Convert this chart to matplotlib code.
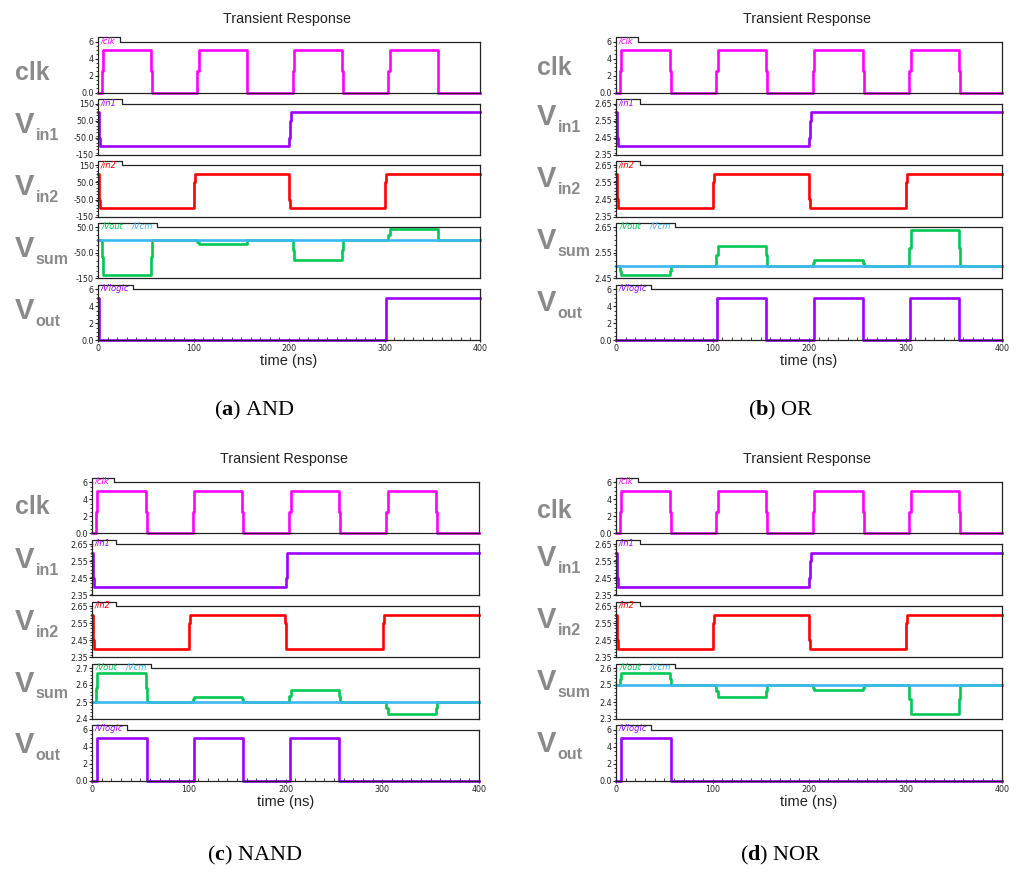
import matplotlib
matplotlib.use('Agg')
import matplotlib.pyplot as plt
from matplotlib.lines import Line2D
from matplotlib.ticker import FixedLocator, MultipleLocator

plt.rcParams['mathtext.fontset'] = 'custom'
plt.rcParams['mathtext.bf'] = 'Liberation Serif:bold'
plt.rcParams['mathtext.rm'] = 'Liberation Serif'

W, H = 1024, 880

# ---- data (time in ns) ----
clk_t = [0, 4, 5.5, 55.5, 56.5, 104, 105.5, 155.5, 156.5, 204, 205.5, 255.5, 256.5,
         304, 305.5, 355.5, 356.5, 400]
clk_v = [0, 2.5, 5, 2.5, 0, 2.5, 5, 2.5, 0, 2.5, 5, 2.5, 0, 2.5, 5, 2.5, 0, 0]

in1_t = [0, 0.6, 1.2, 2.0, 200.5, 201.2, 202.0, 400]
in1_v = [2.6, 2.55, 2.45, 2.4, 2.45, 2.55, 2.6, 2.6]
in1_mv = [100, 50, -50, -100, -50, 50, 100, 100]

in2_t = [0, 0.6, 1.2, 2.0, 100.0, 100.7, 101.4, 199.5, 200.2, 200.9, 300.3, 301.0, 301.7, 400]
in2_v = [2.6, 2.55, 2.45, 2.4, 2.45, 2.55, 2.6, 2.55, 2.45, 2.4, 2.45, 2.55, 2.6, 2.6]
in2_mv = [100, 50, -50, -100, -50, 50, 100, 50, -50, -100, -50, 50, 100, 100]

sum_t = [0, 4, 5.5, 55.5, 56.5, 104, 105.5, 155.5, 156.5, 204, 205.5, 255.5, 256.5,
         304, 305.5, 355.5, 356.5, 400]
sum_and = [0, -68, -135, -68, 0, -8, -15, -8, 0, -40, -78, -40, 0, 22, 43, 22, 0, 0]
sum_or = [2.5, 2.48, 2.463, 2.48, 2.5, 2.54, 2.579, 2.54, 2.5, 2.51, 2.522, 2.51, 2.5,
          2.57, 2.64, 2.57, 2.5, 2.5]
sum_nand = [2.5, 2.58, 2.67, 2.58, 2.5, 2.515, 2.53, 2.515, 2.5, 2.535, 2.569, 2.535, 2.5,
            2.465, 2.43, 2.465, 2.5, 2.5]
sum_nor = [2.5, 2.535, 2.57, 2.535, 2.5, 2.465, 2.43, 2.465, 2.5, 2.485, 2.473, 2.485, 2.5,
           2.415, 2.33, 2.415, 2.5, 2.5]

out_t_and = [0, 0.8, 302, 400]
out_and = [5, 0, 5, 5]
out_t_or = [0, 104.6, 155.8, 204.8, 256, 304.3, 355.2, 400]
out_or = [0, 5, 0, 5, 0, 5, 0, 0]
out_t_nand = [0, 5.3, 56.8, 105, 156, 204.8, 255.8, 400]
out_nand = [0, 5, 0, 5, 0, 5, 0, 0]
out_t_nor = [0, 5, 56.5, 400]
out_nor = [0, 5, 0, 0]

x_ticks = [0, 100, 200, 300, 400]
logic_ticks = [0, 2, 4, 6]
logic_labels = ['0.0', '2', '4', '6']
in_ticks = [2.35, 2.45, 2.55, 2.65]
in_labels = ['2.35', '2.45', '2.55', '2.65']
in_ticks_mv = [-150, -50, 50, 150]
in_labels_mv = ['-150', '-50.0', '50.0', '150']

C_CLK, C_IN1, C_IN2 = '#ff00ff', '#9a00ff', '#ff0000'
C_OUT, C_CM, C_LOGIC = '#00c853', '#3cb8f0', '#9a00ff'
FRAME = '#222222'
LABEL_GRAY = '#8a8a8a'

panels = [
    dict(x0=98, x1=480, top=41.7, cap='a', name='AND', capx=254, capy=410,
         clk_dy=20, v_dy=10,
         in1=in1_mv, in2=in2_mv, inlim=(-150, 150), inticks=in_ticks_mv, inlab=in_labels_mv, inminor=20,
         vsum=sum_and, cm=0, sumlim=(-150, 50), sumticks=[-150, -50, 50],
         sumlab=['-150', '-50.0', '50.0'], summinor=20,
         out_t=out_t_and, out=out_and),
    dict(x0=616, x1=1002, top=41.7, cap='b', name='OR', capx=781, capy=410,
         clk_dy=15, v_dy=2,
         in1=in1_v, in2=in2_v, inlim=(2.35, 2.65), inticks=in_ticks, inlab=in_labels, inminor=0.02,
         vsum=sum_or, cm=2.5, sumlim=(2.45, 2.65), sumticks=[2.45, 2.55, 2.65],
         sumlab=['2.45', '2.55', '2.65'], summinor=0.02,
         out_t=out_t_or, out=out_or),
    dict(x0=92, x1=479, top=482.3, cap='c', name='NAND', capx=255, capy=855,
         clk_dy=14, v_dy=4,
         in1=in1_v, in2=in2_v, inlim=(2.35, 2.65), inticks=in_ticks, inlab=in_labels, inminor=0.02,
         vsum=sum_nand, cm=2.5, sumlim=(2.4, 2.7), sumticks=[2.4, 2.5, 2.6, 2.7],
         sumlab=['2.4', '2.5', '2.6', '2.7'], summinor=0.02,
         out_t=out_t_nand, out=out_nand),
    dict(x0=616, x1=1002, top=482.3, cap='d', name='NOR', capx=781, capy=855,
         clk_dy=18, v_dy=2.5,
         in1=in1_v, in2=in2_v, inlim=(2.35, 2.65), inticks=in_ticks, inlab=in_labels, inminor=0.02,
         vsum=sum_nor, cm=2.5, sumlim=(2.3, 2.6), sumticks=[2.3, 2.4, 2.5, 2.6],
         sumlab=['2.3', '2.4', '2.5', '2.6'], summinor=0.02,
         out_t=out_t_nor, out=out_nor),
]

ROW_H = 51
ROW_STEP = 61.9
TAB_H = 4.5

fig = plt.figure(figsize=(W / 100, H / 100), dpi=100)


def fx(x):
    return x / W


def fy(y):
    return 1 - y / H


def add_axes(x0, x1, top):
    return fig.add_axes([fx(x0), fy(top + ROW_H), (x1 - x0) / W, ROW_H / H])


def style_axes(ax, ylim, ticks, labels, minor, bottom_row):
    ax.set_xlim(0, 400)
    ax.set_ylim(*ylim)
    ax.yaxis.set_major_locator(FixedLocator(ticks))
    ax.set_yticklabels(labels)
    ax.yaxis.set_minor_locator(MultipleLocator(minor))
    ax.xaxis.set_major_locator(FixedLocator(x_ticks))
    ax.xaxis.set_minor_locator(MultipleLocator(10))
    ax.spines['top'].set_visible(False)
    for s in ['left', 'right', 'bottom']:
        ax.spines[s].set_color(FRAME)
        ax.spines[s].set_linewidth(0.9)
    ax.tick_params(axis='y', which='major', direction='out', length=2.5, width=0.8,
                   labelsize=5.8, pad=0.5, colors=FRAME)
    ax.tick_params(axis='y', which='minor', direction='out', length=1.3, width=0.6, colors=FRAME)
    if bottom_row:
        ax.tick_params(axis='x', which='major', direction='inout', length=3, width=0.8,
                       labelsize=5.8, pad=1.5, colors=FRAME)
        ax.tick_params(axis='x', which='minor', direction='in', length=2, width=0.6, colors=FRAME)
    else:
        ax.tick_params(axis='x', which='both', bottom=False, labelbottom=False)


def draw_tab(x0, x1, top, width, names):
    xs = [x0, x0, x0 + width, x0 + width, x1]
    ys = [top, top - TAB_H, top - TAB_H, top, top]
    fig.add_artist(Line2D([fx(x) for x in xs], [fy(y) for y in ys], color=FRAME,
                          lw=0.9, transform=fig.transFigure))
    for dx, txt, col in names:
        fig.text(fx(x0 + dx), fy(top - 1.0), txt, color=col, fontsize=6,
                 family='DejaVu Sans', style='italic', ha='left', va='center')


def row_label(x, top, main, sub, clk_dy, v_dy):
    if sub is None:
        fig.text(fx(x), fy(top + clk_dy + 18), main, color=LABEL_GRAY, fontsize=18,
                 family='Liberation Sans', weight='bold', ha='left', va='baseline')
    else:
        base = top + v_dy + 19.5
        fig.text(fx(x), fy(base), main, color=LABEL_GRAY, fontsize=21,
                 family='Liberation Sans', weight='bold', ha='left', va='baseline')
        fig.text(fx(x + 20.5), fy(base + 7), sub, color=LABEL_GRAY, fontsize=11.5,
                 family='Liberation Sans', weight='bold', ha='left', va='baseline')


LW = 1.9
for p in panels:
    x0, x1 = p['x0'], p['x1']
    tops = [p['top'] + i * ROW_STEP for i in range(5)]
    lab_x = 15 if x0 < 500 else 537

    # clk
    ax = add_axes(x0, x1, tops[0])
    ax.step(clk_t, clk_v, where='post', color=C_CLK, lw=LW, clip_on=False)
    style_axes(ax, (0, 6), logic_ticks, logic_labels, 0.5, False)
    draw_tab(x0, x1, tops[0], 22, [(3, '/clk', C_CLK)])
    row_label(lab_x, tops[0], 'clk', None, p['clk_dy'], p['v_dy'])

    # in1
    ax = add_axes(x0, x1, tops[1])
    ax.step(in1_t, p['in1'], where='post', color=C_IN1, lw=LW, clip_on=False)
    style_axes(ax, p['inlim'], p['inticks'], p['inlab'], p['inminor'], False)
    draw_tab(x0, x1, tops[1], 24, [(3, '/in1', C_IN1)])
    row_label(lab_x, tops[1], 'V', 'in1', p['clk_dy'], p['v_dy'])

    # in2
    ax = add_axes(x0, x1, tops[2])
    ax.step(in2_t, p['in2'], where='post', color=C_IN2, lw=LW, clip_on=False)
    style_axes(ax, p['inlim'], p['inticks'], p['inlab'], p['inminor'], False)
    draw_tab(x0, x1, tops[2], 24, [(3, '/in2', C_IN2)])
    row_label(lab_x, tops[2], 'V', 'in2', p['clk_dy'], p['v_dy'])

    # sum
    ax = add_axes(x0, x1, tops[3])
    ax.step(sum_t, p['vsum'], where='post', color=C_OUT, lw=LW, clip_on=False)
    ax.plot([0, 400], [p['cm'], p['cm']], color=C_CM, lw=LW, clip_on=False)
    style_axes(ax, p['sumlim'], p['sumticks'], p['sumlab'], p['summinor'], False)
    draw_tab(x0, x1, tops[3], 59, [(3.5, '/Vout', C_OUT), (33.5, '/Vcm', C_CM)])
    row_label(lab_x, tops[3], 'V', 'sum', p['clk_dy'], p['v_dy'])

    # out
    ax = add_axes(x0, x1, tops[4])
    ax.step(p['out_t'], p['out'], where='post', color=C_LOGIC, lw=LW, clip_on=False)
    style_axes(ax, (0, 6), logic_ticks, logic_labels, 0.5, True)
    draw_tab(x0, x1, tops[4], 35, [(3, '/Vlogic', C_LOGIC)])
    row_label(lab_x, tops[4], 'V', 'out', p['clk_dy'], p['v_dy'])

    cx = (x0 + x1) / 2
    fig.text(fx(cx - 2), fy(tops[0] - 23), 'Transient Response', fontsize=10.3,
             family='Liberation Sans', color='#222222', ha='center', va='center')
    fig.text(fx(cx), fy(tops[4] + ROW_H + 21), 'time (ns)', fontsize=10.5,
             family='Liberation Sans', color='#222222', ha='center', va='center')
    fig.text(fx(p['capx']), fy(p['capy']), '($\\mathbf{%s}$) %s' % (p['cap'], p['name']),
             fontsize=16, family='Liberation Serif', color='black', ha='center', va='center')

fig.savefig('out.png', dpi=100)
